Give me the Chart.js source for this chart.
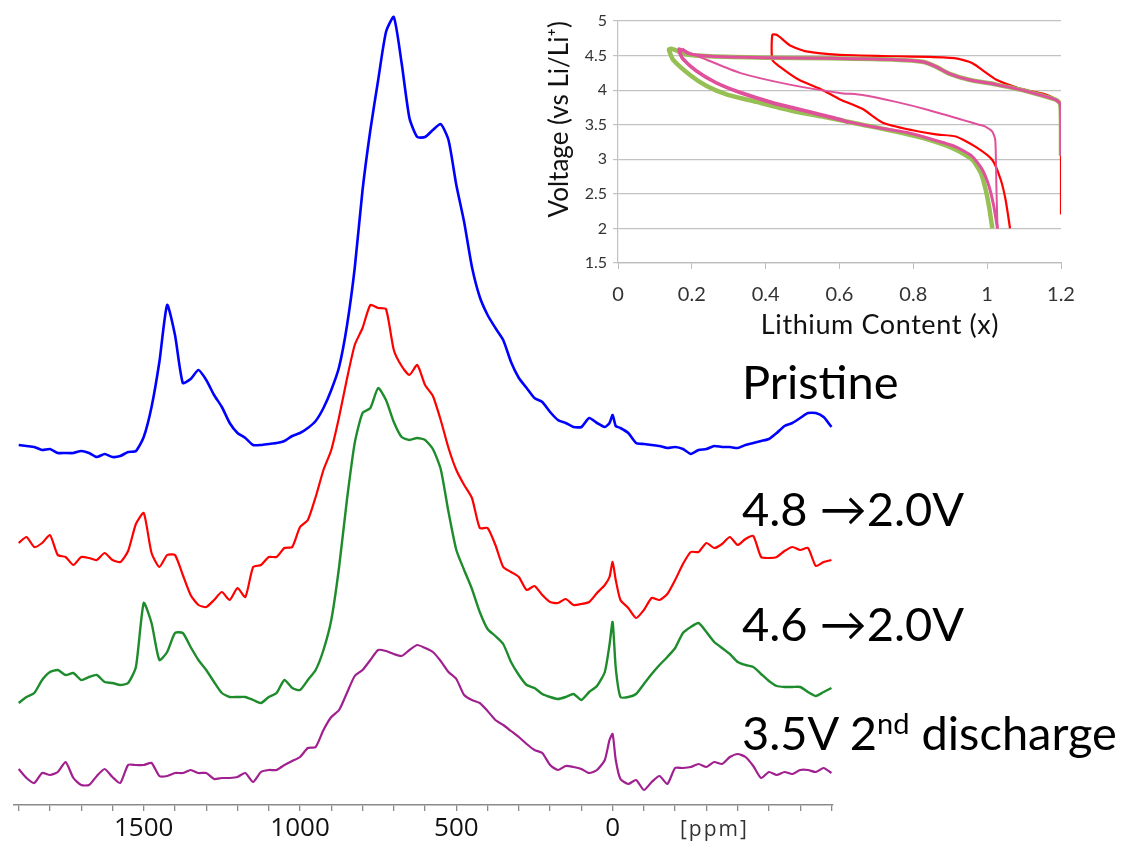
<!DOCTYPE html>
<html>
<head>
<meta charset="utf-8">
<title>Li NMR spectra</title>
<script src="https://cdn.jsdelivr.net/npm/chart.js@4.4.1/dist/chart.umd.min.js"></script>
<style>
  html, body { margin: 0; padding: 0; background: #fff; }
  #page { position: relative; width: 1127px; height: 848px; overflow: hidden; font-family: Lato, sans-serif; }
  #nmr { position: absolute; left: 0; top: 0; }
  #inset { position: absolute; left: 540px; top: 0; }
  .trace-label { position: absolute; left: 742px; font-size: 47px; line-height: 47px; color: #000; white-space: nowrap; }
  .trace-label sup { font-size: 29px; line-height: 0; vertical-align: 16px; }
  #ppm { position: absolute; left: 680px; top: 818px; font-family: "Open Sans", sans-serif; font-size: 21px; line-height: 21px; letter-spacing: 2px; color: #333; }
  #li-title { position: absolute; left: 760px; width: 240px; top: 310px; text-align: center; font-size: 27px; line-height: 27px; letter-spacing: 0.6px; color: #111; white-space: nowrap; }
</style>
</head>
<body>
<div id="page">
  <canvas id="nmr" width="850" height="848"></canvas>
  <canvas id="inset" width="587" height="340"></canvas>
  <div id="ppm">[ppm]</div>
  <div id="li-title">Lithium Content (x)</div>
</div>
<script>
// chemical shift of every sample (ppm)
var ppm = [1900, 1875, 1850, 1825, 1800, 1775, 1750, 1725, 1700, 1675, 1650, 1625, 1600, 1575, 1550, 1525,
  1500, 1475, 1450, 1425, 1400, 1375, 1350, 1325, 1300, 1275, 1250, 1225, 1200, 1175, 1150, 1125,
  1100, 1075, 1050, 1025, 1000, 975, 950, 925, 900, 875, 850, 825, 800, 775, 750, 725,
  700, 675, 650, 625, 600, 575, 550, 525, 500, 475, 450, 425, 400, 375, 350, 325,
  300, 275, 250, 225, 200, 175, 150, 125, 100, 75, 50, 25,
  10, 0, -10,
  -25, -50, -75, -100, -125, -150, -175, -200, -225, -250, -275, -300, -325, -350,
  -375, -400, -425, -450, -475, -500, -525, -550, -575, -600, -625, -650, -675, -700];

// intensities (a.u.) relative to each spectrum's own baseline
var pristine = [5, 4, 3, 0, 1, -3, -3, -3, -1, -3, -7, -4, -7, -6, -2, -1,
  13, 43, 88, 145, 115, 67, 71, 80, 70, 55, 43, 27, 17, 12, 5, 5,
  6, 7, 9, 14, 17, 22, 29, 42, 60, 83, 124, 182, 260, 320, 370, 418,
  433, 387, 332, 313, 313, 320, 326, 310, 265, 228, 183, 153, 135, 122, 110, 88,
  72, 62, 52, 48, 38, 30, 27, 23, 23, 32, 27, 23,
  27, 35, 24,
  22, 17, 7, 6, 5, 4, 2, 3, 1, -4, 0, 1, 4, 3,
  3, 2, 5, 7, 9, 11, 17, 24, 27, 32, 37, 37, 33, 23];

var cut48 = [17, 23, 13, 17, 25, 5, 3, -5, 3, 2, 0, 7, 0, -2, 9, 36,
  47, 7, -7, 5, 5, -15, -35, -45, -47, -40, -32, -40, -28, -37, -7, -5,
  3, 3, 12, 13, 33, 40, 63, 90, 110, 143, 181, 215, 232, 255, 252, 251,
  210, 194, 185, 195, 175, 164, 140, 112, 90, 75, 62, 32, 32, 15, -7, -12,
  -17, -30, -26, -35, -42, -43, -39, -45, -44, -42, -33, -25,
  -17, -2, -20,
  -40, -48, -58, -50, -38, -40, -34, -20, -4, 8, 8, 17, 12, 16,
  23, 15, 21, 24, 3, 2, 3, 9, 13, 10, 12, -6, -2, 0];

var cut46 = [-13, -7, -3, 10, 18, 20, 15, 17, 10, 13, 15, 8, 7, 5, 7, 23,
  87, 67, 30, 38, 57, 57, 43, 30, 20, 8, -3, -7, -7, -7, -10, -13,
  -7, -3, 10, 2, 0, 10, 20, 40, 70, 123, 190, 247, 277, 282, 302, 290,
  268, 253, 250, 252, 250, 241, 221, 178, 140, 120, 101, 78, 61, 54, 46, 28,
  15, 5, 2, -4, -7, -9, -7, -4, -10, -2, 4, 18,
  45, 68, 22,
  -7, -7, -4, 6, 16, 25, 33, 42, 57, 63, 67, 58, 48, 42,
  36, 28, 25, 23, 16, 9, 4, 3, 3, 3, -2, -6, -2, 2];

var second35 = [6, -3, -8, 2, 0, 3, 13, -3, -10, -10, -1, 6, -2, -8, 10, 10,
  10, 12, -1, -1, 2, 2, 5, 2, 2, -4, -3, -3, -2, 2, -7, 3,
  5, 5, 10, 14, 18, 27, 28, 45, 58, 65, 82, 99, 105, 115, 125, 124,
  121, 119, 125, 130, 127, 123, 114, 103, 96, 80, 75, 72, 64, 55, 50, 44,
  38, 31, 25, 22, 10, 5, 9, 8, 6, 2, 5, 15,
  35, 41, 15,
  -4, -9, -5, -15, -7, -1, -9, 7, 7, 8, 11, 8, 13, 11,
  18, 21, 18, 9, -3, 3, 0, 3, 1, 5, 5, 3, 7, 2];

var seriesNames = ['Pristine', '4.8 \u21922.0V', '4.6 \u21922.0V', '3.5V 2nd discharge'];
var stackOffset = [355, 245, 115, 30];
var ppmTicks = [1900, 1800, 1700, 1600, 1500, 1400, 1300, 1200, 1100, 1000, 900, 800, 700, 600, 500,
  400, 300, 200, 100, 0, -100, -200, -300, -400, -500, -600, -700];
var ppmLabels = [1500, 1000, 500, 0];

// inset: voltage profiles (Li content x, voltage vs Li/Li+)
var redLi = [1.2, 1.2, 1.2, 1.197, 1.186, 1.15, 1.114, 1.078, 1.025, 0.987, 0.969, 0.951, 0.915, 0.843, 0.753, 0.6, 0.51, 0.465, 0.438, 0.43, 0.418,
  0.418, 0.438, 0.49, 0.555, 0.6, 0.662, 0.717, 0.798, 0.861, 0.915, 0.969, 1.014, 1.037, 1.05, 1.062];
var redV = [2.2, 3.0, 3.6, 3.8, 3.87, 3.95, 3.99, 4.04, 4.15, 4.29, 4.36, 4.41, 4.46, 4.48, 4.49, 4.51, 4.56, 4.65, 4.77, 4.8, 4.8,
  4.44, 4.34, 4.15, 4.0, 3.87, 3.73, 3.53, 3.42, 3.36, 3.33, 3.18, 2.99, 2.7, 2.41, 2.0];

var greenLi = [1.2, 1.2, 1.198, 1.186, 1.15, 1.095, 1.025, 0.951, 0.897, 0.861, 0.825, 0.753, 0.573, 0.4, 0.25, 0.18, 0.155, 0.145,
  0.138, 0.14, 0.149, 0.195, 0.24, 0.294, 0.375, 0.465, 0.55, 0.662, 0.753, 0.843, 0.915, 0.96, 0.983, 0.996, 1.005, 1.014];
var greenV = [3.05, 3.5, 3.8, 3.86, 3.92, 4.0, 4.08, 4.15, 4.24, 4.34, 4.41, 4.44, 4.46, 4.47, 4.49, 4.52, 4.58, 4.6,
  4.59, 4.55, 4.44, 4.22, 4.06, 3.94, 3.83, 3.71, 3.62, 3.5, 3.4, 3.28, 3.14, 2.99, 2.8, 2.56, 2.32, 2.0];

var pinkCycle1Li = [1.2, 1.2, 1.198, 1.186, 1.15, 1.095, 1.025, 0.951, 0.897, 0.861, 0.825, 0.753, 0.573, 0.4, 0.25, 0.19, 0.175, 0.165,
  0.165, 0.168, 0.177, 0.213, 0.267, 0.33, 0.42, 0.51, 0.6, 0.7, 0.78, 0.843, 0.915, 0.96, 0.987, 1.005, 1.018, 1.028];
var pinkCycle1V = [3.05, 3.5, 3.8, 3.86, 3.92, 4.0, 4.08, 4.15, 4.24, 4.34, 4.41, 4.44, 4.46, 4.47, 4.49, 4.53, 4.58, 4.6,
  4.58, 4.52, 4.44, 4.27, 4.1, 3.96, 3.81, 3.69, 3.57, 3.46, 3.39, 3.3, 3.18, 3.04, 2.85, 2.61, 2.32, 2.0];

var pinkCharge2Li = [1.028, 1.025, 1.022, 1.014, 0.996, 0.978, 0.933, 0.843, 0.753, 0.662, 0.6, 0.465, 0.33, 0.24, 0.19, 0.175];
var pinkCharge2V = [2.0, 2.6, 3.28, 3.4, 3.47, 3.5, 3.57, 3.71, 3.83, 3.93, 3.96, 4.08, 4.25, 4.44, 4.55, 4.6];

var pinkDischarge2Li = [0.175, 0.168, 0.175, 0.21, 0.265, 0.33, 0.42, 0.51, 0.6, 0.625];
var pinkDischarge2V = [4.6, 4.55, 4.46, 4.29, 4.11, 3.97, 3.82, 3.7, 3.58, 3.53];

function toPoints(values, offset) {
  return ppm.map(function (p, i) { return { x: p, y: values[i] + offset }; });
}

function pairUp(xs, ys) {
  return xs.map(function (x, i) { return { x: x, y: ys[i] }; });
}

// "5" instead of "5.0", "1" instead of "1.0"
function shortNumber(v) {
  return String(Number(v.toFixed(1)));
}

var traceColors = ['#0000ff', '#ff0000', '#1e8c2c', '#a0208f'];
var traceWidths = [2.6, 2.2, 2.4, 2.2];
var traceValues = [pristine, cut48, cut46, second35];

var nmrChart = new Chart(document.getElementById('nmr'), {
  type: 'line',
  data: {
    datasets: traceValues.map(function (vals, i) {
      return {
        label: seriesNames[i],
        data: toPoints(vals, stackOffset[i]),
        borderColor: traceColors[i],
        borderWidth: traceWidths[i],
        pointRadius: 0,
        tension: 0.2,
        fill: false
      };
    })
  },
  options: {
    responsive: false,
    animation: false,
    layout: { padding: { left: 14, right: 17, top: 0, bottom: 0 } },
    plugins: { legend: { display: false }, tooltip: { enabled: false } },
    scales: {
      x: {
        type: 'linear',
        reverse: true,
        min: -705,
        max: 1915,
        afterBuildTicks: function (scale) {
          scale.ticks = ppmTicks.map(function (v) { return { value: v }; });
        },
        afterFit: function (scale) { scale.height = 43; },
        grid: { drawOnChartArea: false, drawTicks: true, tickLength: 6, color: '#8a8a8a', lineWidth: 1.3 },
        border: { color: '#8a8a8a', width: 1.5 },
        ticks: {
          autoSkip: false,
          maxRotation: 0,
          padding: 2,
          color: '#111',
          font: { family: 'Open Sans', size: 26 },
          callback: function (v) { return ppmLabels.indexOf(v) >= 0 ? String(v) : ''; }
        }
      },
      y: { display: false, min: 0, max: 805 }
    }
  }
});

var insetChart = new Chart(document.getElementById('inset'), {
  type: 'scatter',
  data: {
    datasets: [
      { data: pairUp(pinkDischarge2Li, pinkDischarge2V), borderColor: '#e0519c', borderWidth: 3.4, order: 0 },
      { data: pairUp(pinkCharge2Li, pinkCharge2V), borderColor: '#e0519c', borderWidth: 2, order: 1 },
      { data: pairUp(pinkCycle1Li, pinkCycle1V), borderColor: '#e0519c', borderWidth: 3, order: 2 },
      { data: pairUp(greenLi, greenV), borderColor: '#96c054', borderWidth: 4.5, order: 3 },
      { data: pairUp(redLi, redV), borderColor: '#ff0000', borderWidth: 2.2, order: 4 }
    ].map(function (d) {
      d.showLine = true;
      d.pointRadius = 0;
      d.tension = 0.2;
      d.fill = false;
      return d;
    })
  },
  options: {
    responsive: false,
    animation: false,
    layout: { padding: { left: 0, right: 66, top: 21, bottom: 0 } },
    plugins: { legend: { display: false }, tooltip: { enabled: false } },
    scales: {
      x: {
        type: 'linear',
        min: 0,
        max: 1.2,
        afterFit: function (scale) { scale.height = 77; },
        grid: { drawOnChartArea: false, tickLength: 6, color: '#bdbdbd' },
        border: { color: '#bdbdbd', width: 1.2 },
        ticks: { stepSize: 0.2, padding: 14, color: '#333', font: { family: 'Lato', size: 20 }, callback: shortNumber }
      },
      y: {
        type: 'linear',
        min: 1.5,
        max: 5,
        afterFit: function (scale) { scale.width = 78; },
        grid: { color: '#c2c2c2', lineWidth: 1.2, tickLength: 5 },
        border: { color: '#c2c2c2', width: 1.2 },
        ticks: { stepSize: 0.5, padding: 6, color: '#333', font: { family: 'Lato', size: 16 }, callback: shortNumber },
        title: {
          display: true,
          text: 'Voltage (vs Li/Li\u207A)',
          align: 'end',
          color: '#111',
          padding: { top: 4, bottom: 0 },
          font: { family: 'Lato', size: 26 }
        }
      }
    }
  }
});

// spectrum labels on the right
var labelTops = [358, 485, 600, 709];
var page = document.getElementById('page');
seriesNames.forEach(function (name, i) {
  var div = document.createElement('div');
  div.className = 'trace-label';
  div.style.top = labelTops[i] + 'px';
  div.innerHTML = name.replace('2nd', '2<sup>nd</sup>');
  page.appendChild(div);
});
</script>
</body>
</html>
